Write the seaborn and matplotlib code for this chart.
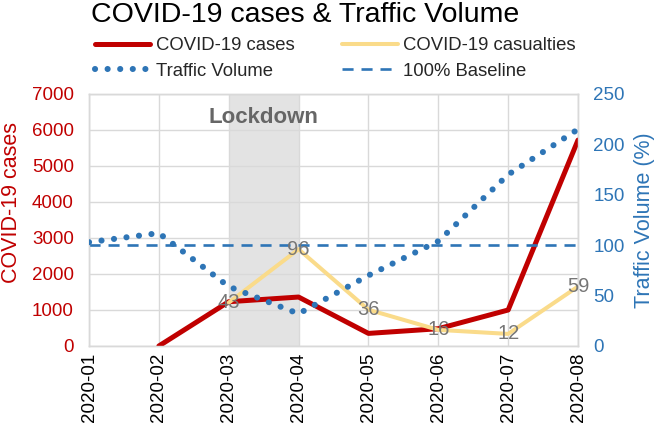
import matplotlib
matplotlib.use('Agg')
import matplotlib.pyplot as plt
import seaborn as sns
import pandas as pd
import numpy as np

# values
months = ['2020-01', '2020-02', '2020-03', '2020-04', '2020-05', '2020-06', '2020-07', '2020-08']
cases = [np.nan, 0, 1230, 1360, 350, 480, 1000, 5720]
casualties = [np.nan, np.nan, 43, 96, 36, 16, 12, 59]
traffic = [103, 112, 59, 32, 70, 104, 170, 215]
baseline = [100, 100, 100, 100, 100, 100, 100, 100]
lockdown = ('2020-03', '2020-04')

RED = '#c00000'
BLUE = '#2e75b6'
GOLD = '#fadb8a'
GREY_LBL = '#767676'

df = pd.DataFrame({'pos': range(len(months)), 'month': months, 'cases': cases,
                   'casualties': casualties, 'traffic': traffic, 'baseline': baseline})

sns.set_theme(style='whitegrid')
plt.rcParams['font.family'] = ['Liberation Sans', 'DejaVu Sans']

fig = plt.figure(figsize=(6.61, 4.26), dpi=100)
ax = fig.add_axes([89 / 661, 1 - 346 / 426, (578 - 89) / 661, (346 - 94) / 426])
ax2 = ax.twinx()

# lockdown shading
x0, x1 = months.index(lockdown[0]), months.index(lockdown[1])
ax.axvspan(x0, x1, color='#e3e3e3', zorder=0.2, lw=0)
ax.text((x0 + x1) / 2, 6350, 'Lockdown', ha='center', va='center', fontsize=16,
        fontweight='bold', color='#666666')

sns.lineplot(data=df, x='pos', y='cases', ax=ax, color=RED, linewidth=3.6,
             label='COVID-19 cases', zorder=3)
sns.lineplot(data=df, x='pos', y='casualties', ax=ax2, color=GOLD, linewidth=2.9,
             label='COVID-19 casualties', zorder=2)
sns.lineplot(data=df, x='pos', y='traffic', ax=ax2, color=BLUE, linewidth=4.4,
             linestyle=(0, (0.01, 2.05)), dash_capstyle='round', label='Traffic Volume', zorder=3)
sns.lineplot(data=df, x='pos', y='baseline', ax=ax2, color=BLUE, linewidth=1.9,
             linestyle=(0, (4.2, 3.0)), label='100% Baseline', zorder=2)

for p, v in zip(df['pos'], casualties):
    if not np.isnan(v):
        ax2.text(p, v, str(int(v)), ha='center', va='center', fontsize=14.5, color=GREY_LBL, zorder=5)

ax.set_xlim(0, len(months) - 1)
ax.set_ylim(0, 7000)
ax2.set_ylim(0, 250)
ax.set_xticks(df['pos'])
ax.set_xticklabels(months, rotation=90)
ax.set_yticks(range(0, 7001, 1000))
ax2.set_yticks(range(0, 251, 50))
ax.grid(True, color='#d9d9d9', linewidth=1)
ax2.grid(False)
ax.set_axisbelow(True)

ax.tick_params(axis='y', colors=RED, labelsize=13.5, length=0, pad=11)
ax2.tick_params(axis='y', colors=BLUE, labelsize=13.5, length=0, pad=11)
ax.tick_params(axis='x', labelsize=13.5, length=0, pad=5, labelcolor='#000000')
ax.set_xlabel('')
ax.set_ylabel('COVID-19 cases', color=RED, fontsize=15.5)
ax.yaxis.set_label_coords(-67 / 489, 0.571)
ax2.set_ylabel('Traffic Volume (%)', color=BLUE, fontsize=15.5)
ax2.yaxis.set_label_coords(1 + 56 / 489, 0.5)
for a in (ax, ax2):
    for s in a.spines.values():
        s.set_color('#d9d9d9')
        s.set_linewidth(1)

h1, l1 = ax.get_legend_handles_labels()
h2, l2 = ax2.get_legend_handles_labels()
ax.get_legend().remove()
ax2.get_legend().remove()
handles = dict(zip(l1 + l2, h1 + h2))
order = ['COVID-19 cases', 'Traffic Volume', 'COVID-19 casualties', '100% Baseline']
fig.legend([handles[k] for k in order], order, ncol=2, loc='upper left',
           bbox_to_anchor=(95 / 661, 1 - 37 / 426), frameon=False, fontsize=13.3,
           handlelength=3.0, handletextpad=0.28, columnspacing=2.6, labelspacing=0.48,
           borderpad=0, borderaxespad=0)

fig.text(305 / 661, 1 - 22 / 426, 'COVID-19 cases & Traffic Volume', ha='center',
         va='baseline', fontsize=20.5, color='#000000')

fig.savefig('out.png', dpi=100)
